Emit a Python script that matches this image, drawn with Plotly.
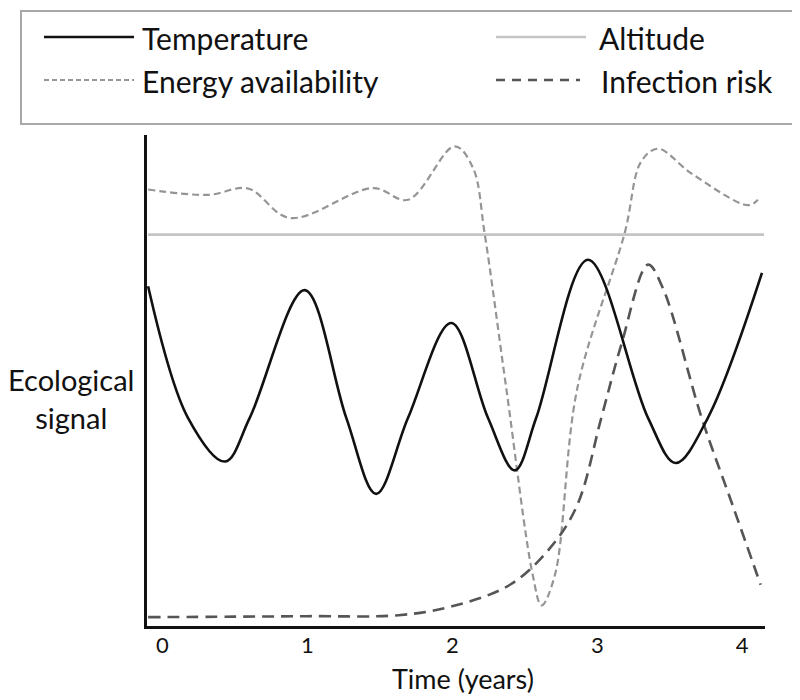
import plotly.graph_objects as go

# ---- data ----
time_temperature = [-0.098, 0.177, 0.433, 0.603, 0.982, 1.269, 1.475, 1.695, 1.993, 2.246,
                    2.431, 2.579, 2.936, 3.35, 3.541, 3.763, 4.136]
temperature = [69.2, 42.4, 33.5, 42.4, 68.4, 42.4, 26.9, 42.4, 61.7, 42.4,
               31.7, 42.4, 74.6, 42.4, 33.2, 42.4, 71.9]

time_altitude = [-0.098, 4.15]
altitude = [79.7, 79.7]

time_energy = [-0.098, 0.315, 0.591, 0.879, 1.453, 1.695, 2.017, 2.143, 2.223, 2.372,
               2.555, 2.616, 2.708, 2.863, 3.189, 3.303, 3.419, 3.648, 4.04, 4.108]
energy = [88.9, 87.8, 89.1, 83.1, 89.2, 86.8, 97.7, 93.3, 80.0, 48.5,
          10.4, 4.2, 10.4, 48.5, 80.0, 94.6, 97.2, 92.2, 85.7, 86.8]

time_infection = [-0.098, 0.5, 1.0, 1.63, 1.998, 2.398, 2.678, 2.863, 3.028, 3.166,
                  3.35, 3.45, 3.72, 3.93, 4.127]
infection = [1.8, 1.9, 2.0, 2.2, 4.0, 8.4, 16.0, 24.7, 42.4, 57.3,
             73.6, 69.0, 42.4, 24.9, 8.4]

tick_values = [0, 1, 2, 3, 4]
tick_labels = ["0", "1", "2", "3", "4"]
series_names = ["Temperature", "Altitude", "Energy availability", "Infection risk"]
x_title = "Time (years)"
y_title = "Ecological signal"

# ---- styles ----
FONT = "Lato"
TXT = "#111111"
styles = {
    "Temperature": dict(color="#111111", width=2.6, dash="solid"),
    "Altitude": dict(color="#c4c4c4", width=2.6, dash="solid"),
    "Energy availability": dict(color="#959595", width=2.2, dash="7px,4px"),
    "Infection risk": dict(color="#555555", width=2.6, dash="12px,7px"),
}

fig = go.Figure()
for name, xs, ys in [
    ("Altitude", time_altitude, altitude),
    ("Energy availability", time_energy, energy),
    ("Infection risk", time_infection, infection),
    ("Temperature", time_temperature, temperature),
]:
    fig.add_trace(go.Scatter(x=xs, y=ys, mode="lines", name=name,
                             line=dict(shape="spline", smoothing=1.0, **styles[name]),
                             showlegend=False, hoverinfo="skip"))

W, H = 800, 700
L, R, T, B = 139, 43, 127, 82
pw, ph = W - L - R, H - T - B


def px(xp):
    return (xp - L) / pw


def py(yp):
    return (H - B - yp) / ph


shapes = []
annotations = []
# legend frame
shapes.append(dict(type="rect", xref="paper", yref="paper",
                   x0=px(13), x1=px(790), y0=py(116), y1=py(3),
                   line=dict(color="#a8a8a8", width=2), fillcolor="white", layer="below"))
legend_pos = {
    "Temperature": (36, 126, 132, 29),
    "Altitude": (488, 578, 589, 29),
    "Energy availability": (36, 126, 132, 72),
    "Infection risk": (488, 572, 591, 72),
}
legend_dash = {"Temperature": "solid", "Altitude": "solid",
               "Energy availability": "5px,3px", "Infection risk": "9px,7px"}
for name in series_names:
    x0, x1, xt, yr = legend_pos[name]
    st = styles[name]
    shapes.append(dict(type="line", xref="paper", yref="paper",
                       x0=px(x0), x1=px(x1), y0=py(yr), y1=py(yr),
                       line=dict(color=st["color"], width=st["width"], dash=legend_dash[name])))
    annotations.append(dict(text=name, xref="paper", yref="paper", x=px(xt), y=py(yr + 1),
                            xanchor="left", yanchor="middle", showarrow=False,
                            font=dict(family=FONT, size=30, color=TXT)))

annotations.append(dict(text=y_title.replace(" ", "<br>"), xref="paper", yref="paper",
                        x=px(63), y=py(390), xanchor="center", yanchor="middle",
                        showarrow=False, align="center",
                        font=dict(family=FONT, size=29, color=TXT)))
annotations.append(dict(text=x_title, xref="paper", yref="paper",
                        x=px(455), y=py(670), xanchor="center", yanchor="middle",
                        showarrow=False, font=dict(family=FONT, size=27, color=TXT)))

fig.update_layout(
    width=W, height=H,
    margin=dict(l=L, r=R, t=T, b=B, pad=0),
    paper_bgcolor="white", plot_bgcolor="white",
    shapes=shapes, annotations=annotations,
    showlegend=False,
)
fig.update_xaxes(range=[-0.1055, 4.157], tickvals=tick_values, ticktext=tick_labels,
                 showgrid=False, zeroline=False, showline=True, linecolor="#111111",
                 linewidth=2.6, ticks="", ticklabelstandoff=-2,
                 tickfont=dict(family=FONT, size=22, color=TXT), fixedrange=True)
fig.update_yaxes(range=[0, 100], showticklabels=False, showgrid=False, zeroline=False,
                 showline=True, linecolor="#111111", linewidth=2.6, ticks="",
                 fixedrange=True)

fig.write_html("out.html")
